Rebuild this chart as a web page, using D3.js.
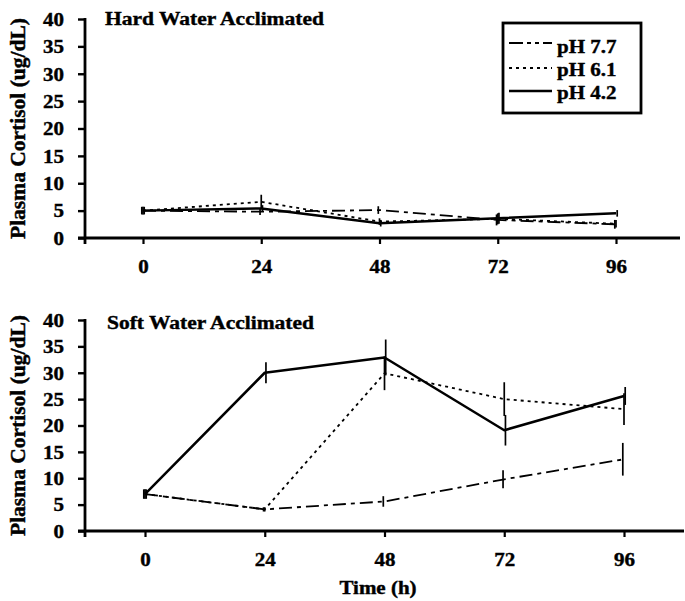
<!DOCTYPE html>
<html>
<head>
<meta charset="utf-8">
<script src="https://cdn.jsdelivr.net/npm/d3@7"></script>
<style>
  html, body { margin: 0; padding: 0; background: #fff; }
  svg { display: block; }
  text { font-family: "Liberation Serif", "Times New Roman", serif; font-weight: bold; fill: #000; stroke: #000; stroke-width: 0.45px; }
</style>
</head>
<body>
<svg id="chart" width="685" height="601"></svg>
<script>
// ---------- data ----------
const hours = [0, 24, 48, 72, 96];
const yTicks = [0, 5, 10, 15, 20, 25, 30, 35, 40];
const seriesNames = ["pH 7.7", "pH 6.1", "pH 4.2"];

// Hard water acclimated
const hard77 = [5.0, 4.8, 5.1, 3.3, 2.5];
const hard77Err = [0.7, 0.6, 0.7, 1.0, 0.8];
const hard61 = [5.0, 6.6, 3.0, 3.5, 2.6];
const hard61Err = [0.7, 1.3, 0.6, 1.0, 0.7];
const hard42 = [5.0, 5.4, 2.7, 3.6, 4.5];
const hard42Err = [0.7, 0.6, 0.6, 1.0, 0.6];

// Soft water acclimated
const soft77 = [7.0, 4.1, 5.6, 9.8, 13.6];
const soft77Err = [0.9, 0.4, 1.0, 1.7, 3.1];
const soft61 = [7.0, 4.1, 29.9, 25.0, 23.1];
const soft61Err = [0.9, 0.4, 3.2, 3.2, 3.0];
const soft42 = [7.0, 30.0, 32.9, 19.1, 25.6];
const soft42Err = [0.9, 2.0, 3.4, 2.9, 1.7];

// ---------- styles ----------
const dashes = ["13,5,4,5", "3,4", null];
const widths = [1.8, 1.8, 2.5];
const VS = 0.88; // vertical squash of horizontal text, to match the scanned figure
const FS = 21;

const svg = d3.select("#chart");

function panel(cfg) {
  const x = d3.scaleLinear().domain([0, 96]).range(cfg.xr);
  const y = d3.scaleLinear().domain([0, 40]).range(cfg.yr);
  const g = svg.append("g");

  // y axis
  const yAxis = d3.axisLeft(y).tickValues(yTicks).tickSize(7).tickPadding(14).tickSizeOuter(0);
  const gy = g.append("g").attr("transform", `translate(${cfg.axisX},0)`).call(yAxis);
  gy.select(".domain").remove();
  gy.selectAll(".tick line").attr("stroke", "#000").attr("stroke-width", 2.4);
  gy.selectAll(".tick text")
    .attr("font-size", FS)
    .attr("transform", `scale(1,${VS})`)
    .attr("dy", "0.34em");
  g.append("line")
    .attr("x1", cfg.axisX).attr("x2", cfg.axisX)
    .attr("y1", y(40) - 1).attr("y2", y(0) + 6)
    .attr("stroke", "#000").attr("stroke-width", 2.8);

  // x axis
  const xAxis = d3.axisBottom(x).tickValues(hours).tickSize(6).tickSizeOuter(0);
  const gx = g.append("g").attr("transform", `translate(0,${y(0)})`).call(xAxis);
  gx.select(".domain").remove();
  gx.selectAll(".tick line").attr("stroke", "#000").attr("stroke-width", 2.2);
  gx.selectAll(".tick text")
    .attr("font-size", FS)
    .attr("transform", `scale(1,${VS})`)
    .attr("y", 29 / VS)
    .attr("dy", "0.35em");
  g.append("line")
    .attr("x1", cfg.axisX - 7).attr("x2", cfg.xEnd)
    .attr("y1", y(0)).attr("y2", y(0))
    .attr("stroke", "#000").attr("stroke-width", 2.8);

  // title
  g.append("text")
    .attr("transform", `translate(${cfg.titleX},${cfg.titleY}) scale(1,${VS})`)
    .attr("font-size", 21.5)
    .text(cfg.title);

  // y label
  g.append("text")
    .attr("transform", `translate(${cfg.ylabX},${(y(0) + y(40)) / 2}) rotate(-90)`)
    .attr("text-anchor", "middle")
    .attr("font-size", 21.5)
    .text("Plasma Cortisol (ug/dL)");

  // series
  const line = d3.line().x((d, i) => x(hours[i])).y(d => y(d));
  cfg.series.forEach((s, k) => {
    g.append("path")
      .datum(s.v)
      .attr("d", line)
      .attr("fill", "none")
      .attr("stroke", "#000")
      .attr("stroke-width", widths[k])
      .attr("stroke-dasharray", dashes[k])
      .attr("stroke-linejoin", "round");
    g.selectAll(null)
      .data(s.v)
      .enter().append("line")
      .attr("x1", (d, i) => x(hours[i]) + (k - 1) * 1.2)
      .attr("x2", (d, i) => x(hours[i]) + (k - 1) * 1.2)
      .attr("y1", (d, i) => y(d + s.e[i]))
      .attr("y2", (d, i) => y(d - s.e[i]))
      .attr("stroke", "#000")
      .attr("stroke-width", 1.7);
  });
  return { x, y, g };
}

panel({
  xr: [143, 616], yr: [238, 19], axisX: 85, xEnd: 680,
  title: "Hard Water Acclimated", titleX: 105, titleY: 25, ylabX: 25,
  series: [{ v: hard77, e: hard77Err }, { v: hard61, e: hard61Err }, { v: hard42, e: hard42Err }]
});

panel({
  xr: [145, 624], yr: [531, 320], axisX: 85, xEnd: 684,
  title: "Soft Water Acclimated", titleX: 107, titleY: 329, ylabX: 25,
  series: [{ v: soft77, e: soft77Err }, { v: soft61, e: soft61Err }, { v: soft42, e: soft42Err }]
});

// x axis title
svg.append("text")
  .attr("transform", `translate(378,594) scale(1,${VS})`)
  .attr("text-anchor", "middle")
  .attr("font-size", FS)
  .text("Time (h)");

// ---------- legend ----------
const leg = svg.append("g");
leg.append("rect")
  .attr("x", 503).attr("y", 23).attr("width", 138).attr("height", 90)
  .attr("fill", "#fff").attr("stroke", "#000").attr("stroke-width", 2.8);
const legLineY = [43, 68, 91];
const legTextY = [53, 76, 99];
seriesNames.forEach((name, k) => {
  leg.append("line")
    .attr("x1", 509).attr("x2", 552)
    .attr("y1", legLineY[k]).attr("y2", legLineY[k])
    .attr("stroke", "#000")
    .attr("stroke-width", widths[k])
    .attr("stroke-dasharray", k === 0 ? "14,4,4,4,4,4" : dashes[k]);
  leg.append("text")
    .attr("transform", `translate(557,${legTextY[k]}) scale(1,${VS})`)
    .attr("font-size", FS)
    .text(name);
});
</script>
</body>
</html>
